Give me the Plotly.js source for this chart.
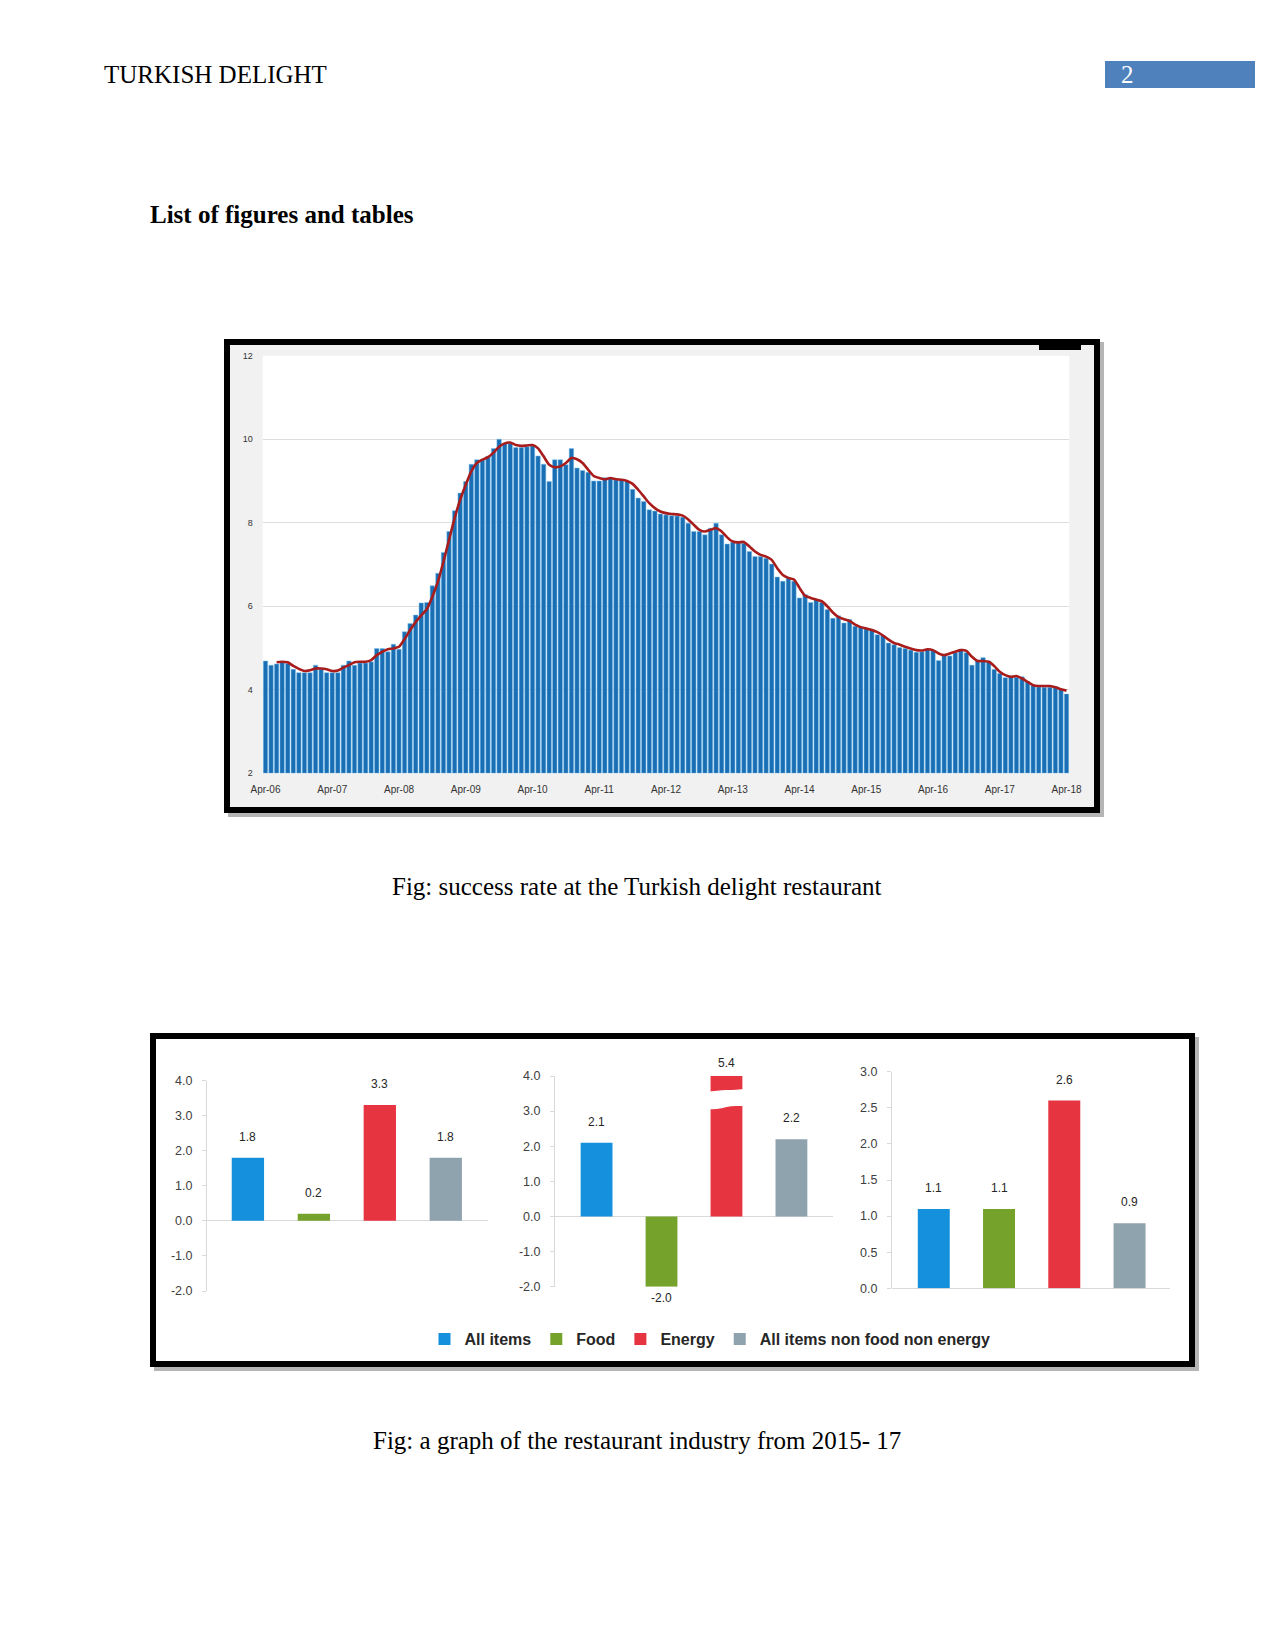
<!DOCTYPE html>
<html>
<head>
<meta charset="utf-8">
<script src="https://cdn.plot.ly/plotly-3.0.1.min.js"></script>
<style>
html,body{margin:0;padding:0;background:#fff;}
#page{width:1275px;height:1651px;}
</style>
</head>
<body>
<div id="page"></div>
<script>
// ---------- DATA ----------
// Top chart: monthly values Apr-06 .. Apr-18
const monthlyValues = [
4.69,4.59,4.62,4.67,4.63,4.49,4.41,4.41,4.41,4.59,4.49,4.41,
4.41,4.41,4.59,4.69,4.59,4.64,4.64,4.67,4.99,4.99,4.91,5.09,
4.97,5.39,5.59,5.79,6.08,6.09,6.49,6.79,7.29,7.79,8.29,8.71,
8.99,9.40,9.51,9.51,9.59,9.78,10.0,9.90,9.90,9.80,9.80,9.82,
9.84,9.60,9.40,8.99,9.51,9.51,9.39,9.78,9.31,9.25,9.21,9.00,
9.00,9.08,9.07,9.03,9.03,8.99,8.80,8.59,8.51,8.31,8.28,8.21,
8.19,8.17,8.16,8.13,7.99,7.79,7.79,7.71,7.87,7.99,7.71,7.49,
7.53,7.52,7.51,7.31,7.19,7.19,7.15,7.01,6.70,6.60,6.68,6.60,
6.20,6.28,6.09,6.16,6.09,5.92,5.71,5.77,5.60,5.68,5.52,5.50,
5.48,5.45,5.32,5.30,5.12,5.08,5.01,4.99,4.95,4.90,4.91,4.97,
4.95,4.70,4.83,4.81,4.89,4.97,4.89,4.59,4.71,4.77,4.69,4.49,
4.39,4.29,4.33,4.30,4.31,4.19,4.10,4.07,4.06,4.06,4.07,4.01,
3.90];
// Trend line (red)
const trendValues = [
null,null,4.66,4.67,4.66,4.57,4.50,4.45,4.47,4.51,4.51,4.49,
4.45,4.46,4.53,4.59,4.66,4.67,4.67,4.71,4.83,4.91,4.97,4.99,
5.03,5.21,5.43,5.62,5.78,5.93,6.23,6.59,7.07,7.59,8.11,8.55,
8.91,9.23,9.43,9.51,9.57,9.68,9.82,9.90,9.92,9.86,9.84,9.85,
9.86,9.78,9.59,9.39,9.33,9.35,9.43,9.55,9.52,9.43,9.27,9.12,
9.07,9.04,9.07,9.04,9.03,9.00,8.93,8.79,8.63,8.47,8.35,8.27,
8.23,8.21,8.20,8.17,8.08,7.95,7.83,7.79,7.83,7.87,7.79,7.65,
7.55,7.53,7.54,7.43,7.31,7.23,7.19,7.11,6.91,6.75,6.68,6.64,
6.44,6.25,6.20,6.16,6.12,6.00,5.85,5.74,5.69,5.65,5.56,5.50,
5.47,5.43,5.38,5.30,5.20,5.12,5.08,5.03,4.99,4.95,4.94,4.97,
4.95,4.87,4.83,4.87,4.91,4.95,4.93,4.79,4.69,4.69,4.67,4.57,
4.43,4.35,4.31,4.33,4.27,4.19,4.11,4.09,4.09,4.09,4.06,4.01,
3.98];
const topTickLabels = ["Apr-06","Apr-07","Apr-08","Apr-09","Apr-10","Apr-11","Apr-12","Apr-13","Apr-14","Apr-15","Apr-16","Apr-17","Apr-18"];
const topYTicks = [2,4,6,8,10,12];

// Bottom chart
const seriesNames = ["All items","Food","Energy","All items non food non energy"];
const panel1Values = [1.8, 0.2, 3.3, 1.8];
const panel2Values = [2.1, -2.0, 5.4, 2.2];
const panel3Values = [1.1, 1.1, 2.6, 0.9];
const panel12TickVals = [-2,-1,0,1,2,3,4];
const panel12TickText = ["-2.0","-1.0","0.0","1.0","2.0","3.0","4.0"];
const panel3TickVals = [0,0.5,1,1.5,2,2.5,3];
const panel3TickText = ["0.0","0.5","1.0","1.5","2.0","2.5","3.0"];

// ---------- HELPERS ----------
const W = 1275, H = 1651;
const px = v => v / W;
const py = v => 1 - v / H;
const monthNames = ["Jan","Feb","Mar","Apr","May","Jun","Jul","Aug","Sep","Oct","Nov","Dec"];
const monthCats = monthlyValues.map((_, k) => {
  const m = (3 + k) % 12;
  const y = 6 + Math.floor((3 + k) / 12);
  return monthNames[m] + "-" + String(y).padStart(2, "0");
});
const seriesColors = ["#1490dc", "#74a22a", "#e63441", "#8fa3ae"];

const traces = [];
// bars drawn from the axis floor (2): heights above base
traces.push({
  type: "bar", x: monthCats, y: monthlyValues.map(v => v - 2), base: 2,
  customdata: monthlyValues, xaxis: "x", yaxis: "y", width: 0.8,
  marker: {color: "#1a6fb4", line: {color: "#7fc2ee", width: 0.5}},
  showlegend: false, hoverinfo: "x"
});
traces.push({
  type: "scatter", mode: "lines", x: monthCats, y: trendValues, xaxis: "x", yaxis: "y",
  line: {color: "#a81c1c", width: 2.6, shape: "spline", smoothing: 0.6},
  showlegend: false, connectgaps: false
});

const panels = [
  {vals: panel1Values, xa: "x2", ya: "y2", ymax: 4},
  {vals: panel2Values, xa: "x3", ya: "y3", ymax: 4},
  {vals: panel3Values, xa: "x4", ya: "y4", ymax: 3}
];
const annotations = [];
panels.forEach((p, pi) => {
  p.vals.forEach((v, i) => {
    traces.push({
      type: "bar", x: [seriesNames[i]], y: [v], xaxis: p.xa, yaxis: p.ya,
      width: 0.49, name: seriesNames[i], legendgroup: seriesNames[i],
      showlegend: pi === 0, marker: {color: seriesColors[i]}
    });
    const clipped = v > p.ymax;
    annotations.push({
      xref: p.xa, yref: p.ya, x: seriesNames[i], y: clipped ? p.ymax : v,
      text: v.toFixed(1), showarrow: false, yanchor: "middle",
      yshift: v < 0 ? -11 : (clipped ? 13 : 21),
      font: {family: "Liberation Sans, Arial, sans-serif", size: 12, color: "#262626"}
    });
  });
});

// page text
const serif = "Liberation Serif, Times New Roman, serif";
annotations.push(
  {xref:"paper", yref:"paper", x:px(102), y:py(74), xanchor:"left", yanchor:"middle", showarrow:false,
   text:"TURKISH DELIGHT", font:{family:serif, size:25, color:"#000"}},
  {xref:"paper", yref:"paper", x:px(1119), y:py(74), xanchor:"left", yanchor:"middle", showarrow:false,
   text:"2", font:{family:serif, size:25, color:"#fff"}},
  {xref:"paper", yref:"paper", x:px(148), y:py(214), xanchor:"left", yanchor:"middle", showarrow:false,
   text:"<b>List of figures and tables</b>", font:{family:serif, size:25, color:"#000"}},
  {xref:"paper", yref:"paper", x:px(637), y:py(887), xanchor:"center", yanchor:"middle", showarrow:false,
   text:"Fig: success rate at the Turkish delight restaurant", font:{family:serif, size:25, color:"#000"}},
  {xref:"paper", yref:"paper", x:px(637), y:py(1440), xanchor:"center", yanchor:"middle", showarrow:false,
   text:"Fig: a graph of the restaurant industry from 2015- 17", font:{family:serif, size:25, color:"#000"}}
);

const shapes = [
  // page number box
  {type:"rect", xref:"paper", yref:"paper", x0:px(1105), x1:px(1255), y0:py(61), y1:py(88),
   fillcolor:"#4f81bd", line:{width:0}, layer:"below"},
  // top frame shadow + frame
  {type:"rect", xref:"paper", yref:"paper", x0:px(228), x1:px(1104), y0:py(342), y1:py(817),
   fillcolor:"#b5b5b5", line:{width:0}, layer:"below"},
  {type:"rect", xref:"paper", yref:"paper", x0:px(227), x1:px(1097), y0:py(342), y1:py(810),
   fillcolor:"#f1f1f1", line:{color:"#000", width:6}, layer:"below"},
  {type:"rect", xref:"paper", yref:"paper", x0:px(1039), x1:px(1081), y0:py(339), y1:py(350),
   fillcolor:"#000", line:{width:0}, layer:"below"},
  {type:"rect", xref:"x domain", yref:"y domain", x0:0, x1:1, y0:0, y1:1,
   fillcolor:"#fff", line:{width:0}, layer:"below"},
  // bottom frame shadow + frame
  {type:"rect", xref:"paper", yref:"paper", x0:px(154), x1:px(1199), y0:py(1037), y1:py(1371),
   fillcolor:"#b5b5b5", line:{width:0}, layer:"below"},
  {type:"rect", xref:"paper", yref:"paper", x0:px(153), x1:px(1192), y0:py(1036), y1:py(1364),
   fillcolor:"#fff", line:{color:"#000", width:6}, layer:"below"},
  // axis break on the clipped Energy bar (panel 2)
  {type:"path", xref:"x3", yref:"y3", layer:"above", fillcolor:"#fff", line:{width:0},
   path:"M1.7,3.05 C1.8,3.05 1.9,3.07 2.0,3.12 C2.1,3.15 2.2,3.14 2.3,3.15 L2.3,3.63 C2.2,3.62 2.1,3.6 2.0,3.6 C1.9,3.6 1.8,3.56 1.7,3.55 Z"}
];

const tickFontBottom = {family:"Liberation Sans, Arial, sans-serif", size:12.5, color:"#404040"};
function bottomX(d0, d1, r0, r1) {
  return {domain:[px(d0), px(d1)], range:[r0, r1], type:"category", categoryorder:"array",
          categoryarray:seriesNames, showticklabels:false, showline:false, showgrid:false,
          zeroline:false, ticks:"", fixedrange:true};
}
function bottomY(xa, top, bottom, range, tv, tt) {
  return {anchor:xa, domain:[py(bottom), py(top)], range:range, tickvals:tv, ticktext:tt,
          showline:true, linecolor:"#d9d9d9", linewidth:1, ticks:"outside", ticklen:4,
          tickcolor:"#d9d9d9", showgrid:false, zeroline:true, zerolinecolor:"#d9d9d9",
          zerolinewidth:1, tickfont:tickFontBottom, ticklabelstandoff:7, fixedrange:true};
}

const layout = {
  width: W, height: H, margin: {l:0, r:0, t:0, b:0, pad:0},
  paper_bgcolor: "#fff", plot_bgcolor: "rgba(0,0,0,0)",
  barmode: "overlay", showlegend: true,
  xaxis: {domain:[px(262.7), px(1069.3)], type:"category", range:[-0.5, monthlyValues.length - 0.5],
          tickvals: topTickLabels, ticktext: topTickLabels, showgrid:false, zeroline:false,
          showline:false, ticks:"", ticklabelstandoff:9,
          tickfont:{family:"Liberation Sans, Arial, sans-serif", size:10, color:"#333"}, fixedrange:true},
  yaxis: {anchor:"x", domain:[py(773.3), py(355.7)], range:[2, 12], tickvals: topYTicks,
          showgrid:true, gridcolor:"#dddddd", gridwidth:1, zeroline:false, showline:false, ticks:"",
          ticklabelstandoff:9, tickfont:{family:"Liberation Sans, Arial, sans-serif", size:9, color:"#333"},
          fixedrange:true},
  xaxis2: bottomX(207, 488, -0.62, 3.64),
  yaxis2: bottomY("x2", 1080.5, 1291, [-2, 4], panel12TickVals, panel12TickText),
  xaxis3: bottomX(555, 833, -0.64, 3.64),
  yaxis3: bottomY("x3", 1076, 1286.7, [-2, 4], panel12TickVals, panel12TickText),
  xaxis4: bottomX(892, 1170, -0.64, 3.62),
  yaxis4: bottomY("x4", 1071.7, 1288.3, [0, 3], panel3TickVals, panel3TickText),
  legend: {orientation:"h", x:px(710), xanchor:"center", y:py(1339), yanchor:"middle",
           bgcolor:"rgba(0,0,0,0)", traceorder:"normal", itemwidth:30,
           font:{family:"Liberation Sans, Arial, sans-serif", size:16, color:"#262626", weight:"bold"}},
  annotations: annotations,
  shapes: shapes
};

Plotly.newPlot("page", traces, layout, {staticPlot:true, displayModeBar:false});
</script>
</body>
</html>
